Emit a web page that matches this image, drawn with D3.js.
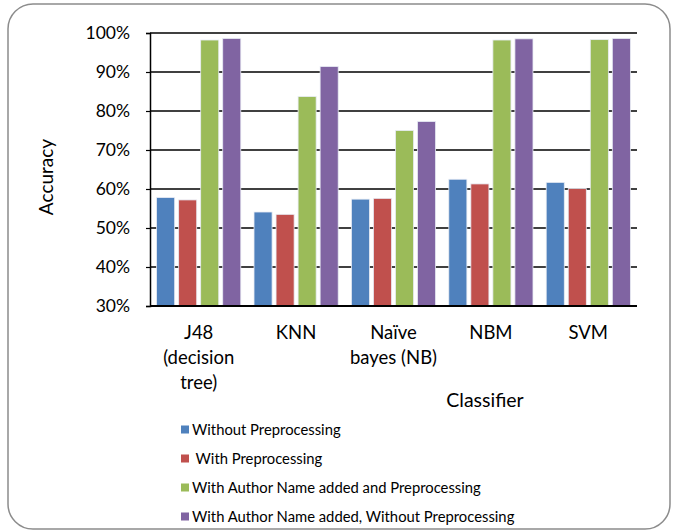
<!doctype html>
<html>
<head>
<script src="https://cdn.jsdelivr.net/npm/d3@7"></script>
<style>
  body { margin: 0; background: #fff; }
  svg { font-family: Lato, "Open Sans", sans-serif; }
</style>
</head>
<body>
<svg width="673" height="531"></svg>
<script>
// data
var classifiers = [["J48", "(decision", "tree)"], ["KNN"], ["Naïve", "bayes (NB)"], ["NBM"], ["SVM"]];
var seriesNames = ["Without Preprocessing", " With Preprocessing",
                   "With Author Name added and Preprocessing", "With Author Name added, Without Preprocessing"];
var colors = ["#4f81bd", "#c0504d", "#9bbb59", "#8064a2"];
var withoutPre = [57.8, 54.1, 57.4, 62.5, 61.7];
var withPre = [57.2, 53.5, 57.6, 61.3, 60.1];
var authorPre = [98.2, 83.7, 75.0, 98.2, 98.3];
var authorNoPre = [98.6, 91.4, 77.3, 98.5, 98.6];
var yTicks = [30, 40, 50, 60, 70, 80, 90, 100];

drawChart();

function drawChart() {
  var series = [withoutPre, withPre, authorPre, authorNoPre];
  var svg = d3.select("svg");

  // rounded outer frame
  svg.append("rect")
     .attr("x", 8).attr("y", 4).attr("width", 662).attr("height", 525)
     .attr("rx", 25).attr("ry", 25)
     .attr("fill", "#fff").attr("stroke", "#8c8c8c").attr("stroke-width", 1.5);

  var pLeft = 150, pRight = 637, pTop = 33, pBottom = 306;

  var x = d3.scaleBand().domain(d3.range(classifiers.length)).range([pLeft, pRight]);
  var xs = d3.scaleBand().domain(d3.range(series.length)).range([0, x.bandwidth()]).paddingInner(0.18).paddingOuter(0.3);
  var y = d3.scaleLinear().domain([30, 100]).range([pBottom, pTop]);

  // gridlines
  svg.append("g").selectAll("line").data(yTicks.slice(1)).enter().append("line")
     .attr("x1", pLeft).attr("x2", pRight)
     .attr("y1", d => y(d)).attr("y2", d => y(d))
     .attr("stroke", "#000").attr("stroke-width", 1.5);

  // bars
  series.forEach(function(vals, s) {
    svg.append("g").selectAll("rect").data(vals).enter().append("rect")
       .attr("x", (d, i) => x(i) + xs(s))
       .attr("width", xs.bandwidth())
       .attr("y", d => y(d))
       .attr("height", d => y(30) - y(d))
       .attr("fill", colors[s])
       .attr("stroke", "#e8ecf4").attr("stroke-width", 0.8);
  });

  // y axis
  var yAxis = svg.append("g").attr("transform", "translate(" + pLeft + ",0)")
     .call(d3.axisLeft(y).tickValues(yTicks).tickFormat(d => d + "%").tickSize(4).tickPadding(16));
  yAxis.select(".domain").attr("stroke", "#000").attr("stroke-width", 1.5);
  yAxis.selectAll(".tick line").attr("stroke", "#000").attr("stroke-width", 1.2);
  yAxis.selectAll("text").attr("font-size", 17.5).attr("font-family", "Lato, sans-serif").attr("fill", "#000");

  // x baseline
  svg.append("line").attr("x1", pLeft).attr("x2", pRight).attr("y1", pBottom).attr("y2", pBottom)
     .attr("stroke", "#000").attr("stroke-width", 2);

  // category labels
  svg.append("g").selectAll("text").data(classifiers).enter().append("text")
     .attr("text-anchor", "middle").attr("font-size", 18.5).attr("fill", "#000")
     .attr("transform", (d, i) => "translate(" + (x(i) + x.bandwidth() / 2) + ",339)")
     .each(function(lines) {
       d3.select(this).selectAll("tspan").data(lines).enter().append("tspan")
         .attr("x", 0).attr("y", (l, j) => j * 25).text(l => l);
     });

  // axis titles
  svg.append("text").attr("x", 485).attr("y", 407).attr("text-anchor", "middle")
     .attr("font-size", 19.5).text("Classifier");
  svg.append("text").attr("transform", "translate(53,177) rotate(-90)")
     .attr("text-anchor", "middle").attr("font-size", 19).text("Accuracy");

  // legend
  var legend = svg.append("g").selectAll("g").data(seriesNames).enter().append("g")
     .attr("transform", (d, i) => "translate(181," + (430 + i * 29) + ")");
  legend.append("rect").attr("x", 0).attr("y", -4.5).attr("width", 8).attr("height", 8)
     .attr("fill", (d, i) => colors[i]);
  legend.append("text").attr("x", 11).attr("y", 5).attr("font-size", 14.8)
     .style("white-space", "pre").text(d => d);
}
</script>
</body>
</html>
